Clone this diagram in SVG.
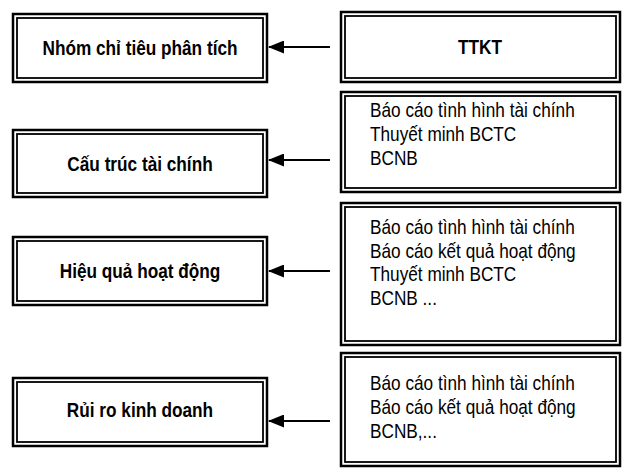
<svg xmlns="http://www.w3.org/2000/svg" width="622" height="468" viewBox="0 0 622 468">
<style>
.o{fill:#fff;stroke:#000;stroke-width:2.5}
.i{fill:none;stroke:#000;stroke-width:1.8}
.b{font-family:"Liberation Sans",Arial,sans-serif;font-weight:bold;font-size:21px;fill:#000;text-anchor:middle}
.r{font-family:"Liberation Sans",Arial,sans-serif;font-size:21px;fill:#000}
.c{stroke:#000;stroke-width:2;fill:none;marker-end:url(#ah)}
</style>
<defs>
<marker id="ah" markerWidth="16" markerHeight="13" refX="15" refY="6.5" orient="auto" markerUnits="userSpaceOnUse">
<path d="M0,0 L16,6.5 L0,13 Z" fill="#000"/>
</marker>
</defs>
<g id="n1"><rect class="o" x="13" y="14" width="254" height="68"/><rect class="i" x="17" y="18" width="246" height="60"/><text class="b" transform="translate(140,55) scale(0.82,1)">Nhóm chỉ tiêu phân tích</text></g>
<g id="n2"><rect class="o" x="13" y="130" width="254" height="67"/><rect class="i" x="17" y="134" width="246" height="59"/><text class="b" transform="translate(140,171) scale(0.82,1)">Cấu trúc tài chính</text></g>
<g id="n3"><rect class="o" x="13" y="237" width="254" height="68"/><rect class="i" x="17" y="241" width="246" height="60"/><text class="b" transform="translate(140,278) scale(0.82,1)">Hiệu quả hoạt động</text></g>
<g id="n4"><rect class="o" x="13" y="378" width="254" height="68"/><rect class="i" x="17" y="382" width="246" height="60"/><text class="b" transform="translate(140,417) scale(0.82,1)">Rủi ro kinh doanh</text></g>
<g id="r1"><rect class="o" x="341" y="12" width="279" height="70"/><rect class="i" x="345" y="16" width="271" height="62"/><text class="b" transform="translate(480,54) scale(0.82,1)">TTKT</text></g>
<g id="r2"><rect class="o" x="341" y="92" width="279" height="100"/><rect class="i" x="345" y="96" width="271" height="92"/>
<text class="r" transform="translate(370,117) scale(0.82,1)">Báo cáo tình hình tài chính</text>
<text class="r" transform="translate(370,141) scale(0.82,1)">Thuyết minh BCTC</text>
<text class="r" transform="translate(370,165) scale(0.82,1)">BCNB</text></g>
<g id="r3"><rect class="o" x="341" y="203" width="279" height="142"/><rect class="i" x="345" y="207" width="271" height="134"/>
<text class="r" transform="translate(370,234) scale(0.82,1)">Báo cáo tình hình tài chính</text>
<text class="r" transform="translate(370,258) scale(0.82,1)">Báo cáo kết quả hoạt động</text>
<text class="r" transform="translate(370,281) scale(0.82,1)">Thuyết minh BCTC</text>
<text class="r" transform="translate(370,305) scale(0.82,1)">BCNB ...</text></g>
<g id="r4"><rect class="o" x="341" y="353" width="279" height="113"/><rect class="i" x="345" y="357" width="271" height="105"/>
<text class="r" transform="translate(370,390) scale(0.82,1)">Báo cáo tình hình tài chính</text>
<text class="r" transform="translate(370,414) scale(0.82,1)">Báo cáo kết quả hoạt động</text>
<text class="r" transform="translate(370,438) scale(0.82,1)">BCNB,...</text></g>
<g id="connectors">
<line class="c" x1="330" y1="47" x2="269" y2="47"/>
<line class="c" x1="330" y1="160" x2="269" y2="160"/>
<line class="c" x1="330" y1="271" x2="269" y2="271"/>
<line class="c" x1="330" y1="421" x2="269" y2="421"/>
</g>
</svg>
